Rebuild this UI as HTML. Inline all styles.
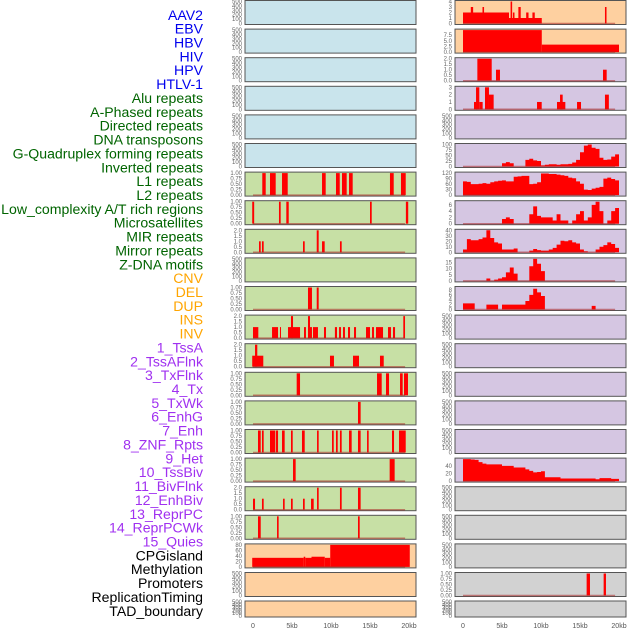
<!DOCTYPE html>
<html><head><meta charset="utf-8">
<style>
html,body{margin:0;padding:0;background:#fff;}
svg{display:block;font-family:"Liberation Sans",sans-serif;}
</style></head>
<body>
<svg id="chart" width="630" height="630" viewBox="0 0 630 630" xmlns="http://www.w3.org/2000/svg"></svg>
<script>
// ---------- data ----------
const labels = ["AAV2","EBV","HBV","HIV","HPV","HTLV-1","Alu repeats","A-Phased repeats","Directed repeats","DNA transposons","G-Quadruplex forming repeats","Inverted repeats","L1 repeats","L2 repeats","Low_complexity A/T rich regions","Microsatellites","MIR repeats","Mirror repeats","Z-DNA motifs","CNV","DEL","DUP","INS","INV","1_TssA","2_TssAFlnk","3_TxFlnk","4_Tx","5_TxWk","6_EnhG","7_Enh","8_ZNF_Rpts","9_Het","10_TssBiv","11_BivFlnk","12_EnhBiv","13_ReprPC","14_ReprPCWk","15_Quies","CPGisland","Methylation","Promoters","ReplicationTiming","TAD_boundary"];
const xTicks = [0,5,10,15,20];
const xTickLabels = ["0","5kb","10kb","15kb","20kb"];
const ticksEmpty = [0,100,200,300,400,500];
const ticksUnit = [0,0.25,0.5,0.75,1];
const ticksTwo = [0,0.5,1,1.5,2];
// segments: [start kb, end kb, value]
const segAlu = [[1.19,1.63,1],[2.18,2.91,1],[3.72,4.45,1],[8.85,9.32,1],[10.64,11.12,1],[11.41,12.01,1],[12.31,12.78,1],[17.56,18.04,1],[18.97,19.58,1]];
const segAPhased = [[-0.1,0.15,1],[3.33,3.55,1],[4.27,4.58,1],[15.0,15.22,1],[19.6,19.9,1]];
const segDirected = [[0.77,0.99,1],[1.15,1.37,1],[6.41,6.63,1],[8.17,8.42,2],[8.85,9.19,1],[11.15,11.37,1]];
const segGQuad = [[7.05,7.56,1],[8.17,8.42,1]];
const segInverted = [[0,0.68,1],[2.44,3.21,1],[3.46,3.59,1],[4.49,6.03,1],[4.87,5.13,2],[6.54,6.79,1],[7.05,7.56,1],[7.05,7.31,2],[7.69,8.33,1],[9.1,9.36,1],[10.5,10.77,1],[11.03,11.28,1],[11.54,11.79,1],[12.18,12.44,1],[12.95,13.21,1],[14.49,15.0,1],[15.26,15.51,1],[15.77,16.67,1],[17.31,17.69,1],[17.95,18.21,1],[19.27,19.49,2]];
const segL1 = [[-0.1,1.32,1],[0.26,0.55,2],[9.87,10.38,1],[12.82,13.59,1],[16.28,16.76,1]];
const segL2 = [[5.6,6.03,1],[15.9,16.5,1],[17.05,17.44,1],[18.85,19.19,1],[19.36,19.87,1]];
const segLowComp = [[13.46,13.8,1]];
const segMicro = [[0.64,0.99,1],[1.15,1.37,1],[2.18,2.86,1],[2.95,3.21,1],[3.72,4.06,1],[4.87,5.09,1],[6.28,6.63,1],[8.21,8.42,1],[10.13,10.35,1],[10.64,10.86,1],[11.15,11.37,1],[12.31,12.65,1],[13.46,13.8,1],[14.62,14.83,1],[17.82,18.08,1],[18.72,19.58,1]];
const segMIR = [[5.13,5.47,1],[17.52,18.16,1]];
const segMirror = [[0,0.26,1],[1.15,1.37,1],[3.85,4.06,1],[4.87,5.09,1],[6.41,6.63,1],[7.44,7.78,1],[8.21,8.42,2],[11.15,11.37,2],[13.46,13.8,2]];
const segZDNA = [[0.64,0.99,1],[3.08,3.29,1],[13.46,13.68,1]];
const segCNV = [[-0.1,6.5,33],[6.5,6.7,37],[6.7,7.5,33],[7.5,9.2,37],[9.2,9.9,33],[9.9,20.1,80]];
const segINS = [[0,5.9,2],[5.9,10.1,1],[1.0,1.3,3],[2.5,2.7,3],[6.1,6.3,4],[6.4,6.6,2],[7.1,7.4,3],[8.1,8.4,2],[8.9,9.2,2],[18.2,18.4,3]];
const segINV = [[0,10.1,9.7],[10.1,20,3.3]];
const segTssA = [[1.84,3.68,2],[4.23,4.74,1],[17.95,18.42,1]];
const segTssAFlnk = [[1.41,1.84,1],[1.67,2.09,3],[2.09,2.52,1],[2.82,3.33,3],[3.33,3.93,2],[9.49,10.09,1],[12.05,13.12,1],[12.44,12.78,2],[14.62,15.13,1],[18.2,18.7,2]];
const segRepTiming = [[15.85,16.28,1],[18.03,18.33,1]];
// histograms: 40 bins of 0.5kb from 0 to 20kb
const histTx = [0,0,0,0,0,0,0,0,0,0,15,20,15,0,0,0,30,35,28,25,5,8,10,10,8,10,10,12,18,30,65,95,100,85,80,40,30,32,45,55];
const histTxWk = [75,72,60,60,62,65,62,70,75,78,80,75,75,100,102,105,105,60,62,70,118,118,115,115,112,108,105,95,92,75,62,30,28,35,40,45,90,95,88,80];
const histEnhG = [0,0,0,0,0,0,0,0,0,0,1.5,2,1.5,0,0,0,0,3,5.5,2.5,2,2,2,1,3,1,1,0,1,3,4,1,2,6,7,4,0,1,4,5];
const histEnh = [5,24,22,22,24,27,40,26,18,16,5,5,5,7,0,0,0,3,6,4,3,3,5,8,14,21,20,22,18,16,5,2,0,0,5,10,13,18,15,8];
const histZNF = [0,0,0,0,0,0,2,0,1,2,3,7,11,6,0,0,0,12,18,14,8,0,0,0,0,0,0,0,0,0,0,0,0,0,0,0,0,0,0,0];
const histHet = [2.5,2.5,2.5,0,0,0,2,2,2,0,2,2,2,2,2,2,3.5,6,8.5,7,5.5,0,0,0,0,0,0,0,0,0,0,0,0,1.5,0,0,0,0,0,0];
const histQuies = [58,58,57,56,50,46,44,44,44,44,40,40,40,36,36,36,31,27,23,24,26,10,10,10,10,7,7,7,7,7,7,7,7,7,5,8,8,8,6,6];

// ---------- layout ----------
const BG = {blue:"#c9e4ec",green:"#c7e0a5",orange:"#fed0a0",purple:"#d5c6e2",gray:"#d2d2d2"};
const colL = {x0:245,x1:416,z:253};
const colR = {x0:455,x1:626,z:463};
const pxPerKb = 7.8;
function rowTop(i){return i===21?601:0.5+i*28.6;}
function rowH(i){return i===21?16:24;}
const leftTracks = [
 ["blue",null,null,500,ticksEmpty],["blue",null,null,500,ticksEmpty],["blue",null,null,500,ticksEmpty],
 ["blue",null,null,500,ticksEmpty],["blue",null,null,500,ticksEmpty],["blue",null,null,500,ticksEmpty],
 ["green","seg",segAlu,1,ticksUnit],["green","seg",segAPhased,1,ticksUnit],["green","seg",segDirected,2,ticksTwo],
 ["green",null,null,500,ticksEmpty],["green","seg",segGQuad,1,ticksUnit],["green","seg",segInverted,2,ticksTwo],
 ["green","seg",segL1,2,ticksTwo],["green","seg",segL2,1,ticksUnit],["green","seg",segLowComp,1,ticksUnit],
 ["green","seg",segMicro,1,ticksUnit],["green","seg",segMIR,1,ticksUnit],["green","seg",segMirror,2,ticksTwo],
 ["green","seg",segZDNA,1,ticksUnit],["orange","seg",segCNV,80,[0,20,40,60,80]],
 ["orange",null,null,500,ticksEmpty],["orange",null,null,500,ticksEmpty]];
const rightTracks = [
 ["orange","seg",segINS,4,[0,1,2,3,4]],["orange","seg",segINV,9.7,[0,2.5,5,7.5]],
 ["purple","seg",segTssA,2,ticksTwo],["purple","seg",segTssAFlnk,3,[0,1,2,3]],["purple",null,null,500,ticksEmpty],
 ["purple","hist",histTx,100,[0,25,50,75,100]],["purple","hist",histTxWk,120,[0,30,60,90,120]],
 ["purple","hist",histEnhG,7,[0,2,4,6]],["purple","hist",histEnh,40,[0,10,20,30,40]],
 ["purple","hist",histZNF,18,[0,5,10,15]],["purple","hist",histHet,9,[0,2,4,6,8]],
 ["purple",null,null,500,ticksEmpty],["purple",null,null,500,ticksEmpty],["purple",null,null,500,ticksEmpty],
 ["purple",null,null,500,ticksEmpty],["purple",null,null,500,ticksEmpty],["purple","hist",histQuies,58,[0,20,40]],
 ["gray",null,null,500,ticksEmpty],["gray",null,null,500,ticksEmpty],["gray",null,null,500,ticksEmpty],
 ["gray","seg",segRepTiming,1,ticksUnit],["gray",null,null,500,ticksEmpty]];

const NS="http://www.w3.org/2000/svg";
const svg=document.getElementById("chart");
function mk(tag,attrs,parent){const e=document.createElementNS(NS,tag);for(const k in attrs)e.setAttribute(k,attrs[k]);(parent||svg).appendChild(e);return e;}
function fmt(v,ticks){const dec=ticks.some(t=>Math.abs(t*100%100)===25||Math.abs(t*100%100)===75)&&ticks[ticks.length-1]<=1?2:(ticks.some(t=>t%1!==0)?1:0);return v.toFixed(dec);}

// labels
const labelColor=i=>i<6?"#0000ee":i<19?"#006400":i<24?"#ffa500":i<39?"#a030f0":"#000";
labels.forEach((t,i)=>{
  const el=mk("text",{x:203,y:15+i*13.86+4.8,"text-anchor":"end","font-size":"14.1",fill:labelColor(i)});
  
  
  el.textContent=t;
});

function drawCol(tracks,col,side){
  const xs=kb=>col.z+kb*pxPerKb;
  tracks.forEach((tr,i)=>{
    const [bg,type,data,ymax,ticks]=tr;
    const top=rowTop(i),h=rowH(i),bot=top+h;
    const ys=v=>bot-1-(v/ymax)*(h-2);
    const g=mk("g",{});
    
    
    mk("rect",{x:col.x0,y:top,width:col.x1-col.x0,height:h,fill:BG[bg],stroke:"#555","stroke-width":1},g);
    ticks.forEach(t=>{
      const tl=mk("text",{x:col.x0-3,y:ys(t)+2,"text-anchor":"end","font-size":"6","fill":"#666"},g);
      
      
      tl.textContent=fmt(t,ticks);
    });
    if(type==="seg"){
      data.forEach(s=>{
        const r=mk("rect",{x:xs(s[0]),y:ys(s[2]),width:Math.max(1,xs(s[1])-xs(s[0])),height:ys(0)-ys(s[2]),fill:"#ff0000"},g);
        
        
      });
    } else if(type==="hist"){
      let d="M"+xs(0)+","+ys(0);
      data.forEach((v,b)=>{d+=" L"+xs(b*0.5)+","+ys(v)+" L"+xs(b*0.5+0.5)+","+ys(v);});
      d+=" L"+xs(20)+","+ys(0)+" Z";
      const p=mk("path",{d:d,fill:"#ff0000"},g);
      
      
    }
    if(type){
      const bl=mk("line",{x1:xs(0),x2:xs(19.5),y1:ys(0),y2:ys(0),stroke:"rgba(170,40,40,0.55)","stroke-width":1.5},g);
      
      
    }
  });
  xTicks.forEach((t,k)=>{
    const tl=mk("text",{x:xs(t),y:628,"text-anchor":"middle","font-size":"7",fill:"#555"});
    
    
    tl.textContent=xTickLabels[k];
  });
}
drawCol(leftTracks,colL,'left');
drawCol(rightTracks,colR,'right');
</script>
</body></html>
